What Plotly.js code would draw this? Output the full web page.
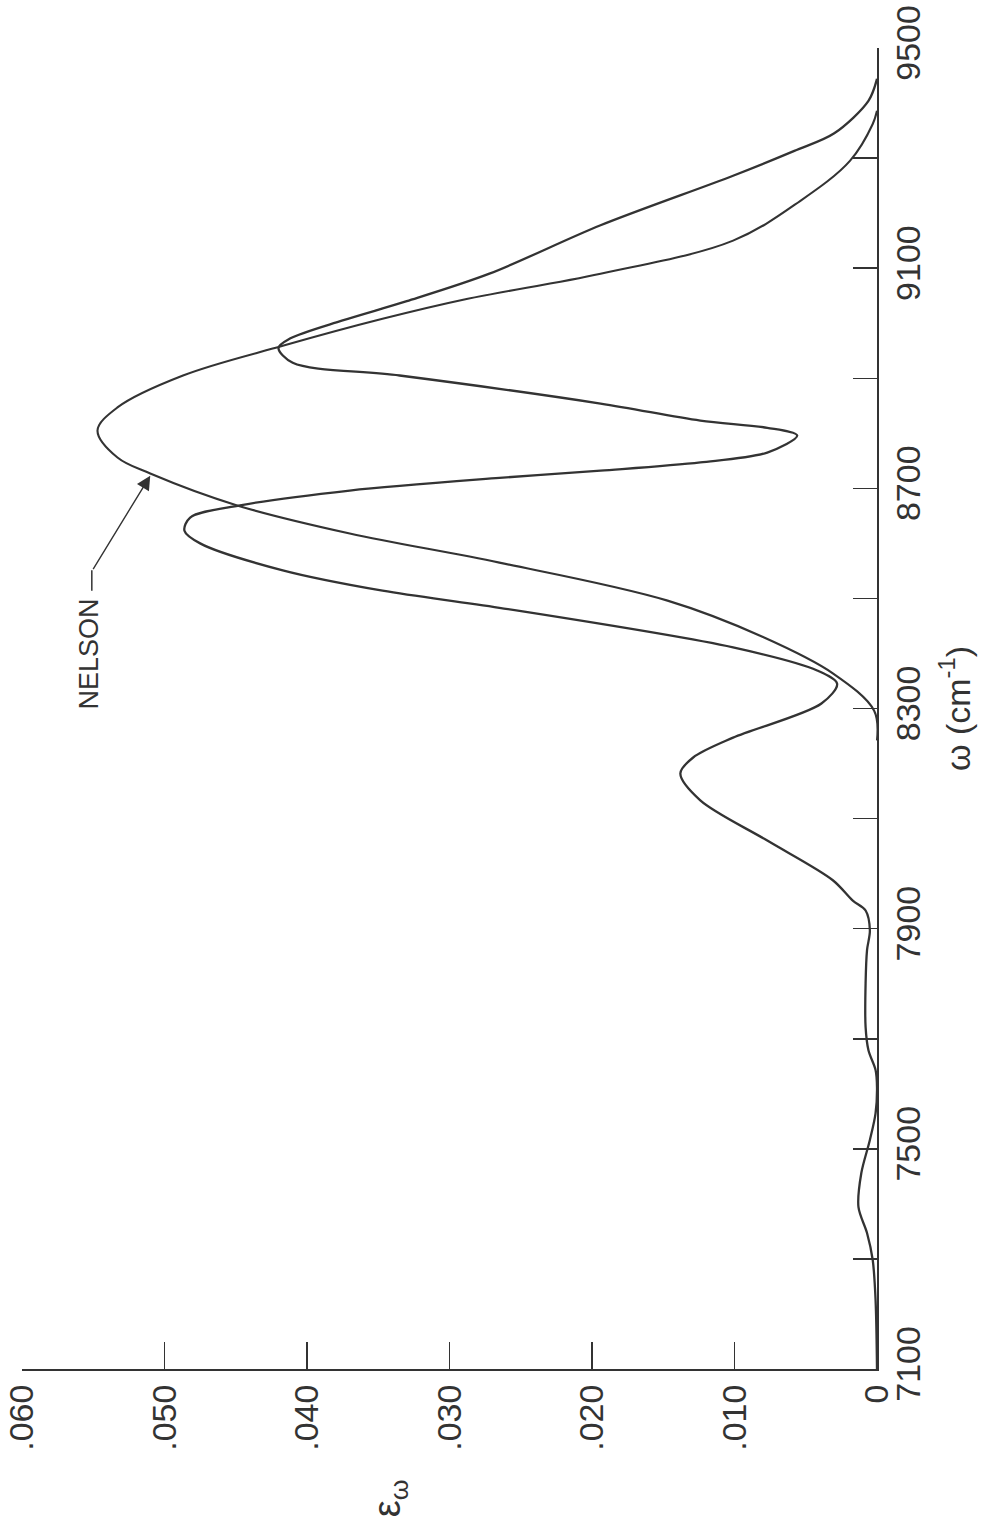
<!DOCTYPE html>
<html>
<head>
<meta charset="utf-8">
<script src="https://cdn.plot.ly/plotly-3.0.1.min.js"></script>
<style>
  html, body { margin: 0; padding: 0; background: #ffffff; }
  #chart { width: 986px; height: 1535px; }
</style>
</head>
<body>
<div id="chart"></div>
<script>
// ---- data ----
// computed multi-peak band: wavenumber (cm^-1) and epsilon
const omegaMain = [7100, 7225, 7298, 7347, 7394, 7456, 7516, 7565, 7612, 7643, 7679, 7721, 7801, 7861, 7897, 7933,
  7951, 7988, 8060, 8133, 8182, 8211, 8247, 8309, 8345, 8369, 8411, 8483, 8514, 8551, 8600, 8623, 8647, 8669,
  8696, 8719, 8732, 8747, 8765, 8796, 8810, 8823, 8854, 8905, 8928, 8955, 8972, 9005, 9040, 9090, 9178, 9268,
  9313, 9345, 9404, 9444];
const epsMain = [0.0000, 0.0001, 0.0003, 0.0007, 0.0013, 0.0011, 0.0005, 0.0001, 0.0000, 0.0001, 0.0006, 0.0008,
  0.0008, 0.0007, 0.0005, 0.0008, 0.0017, 0.0031, 0.0077, 0.0124, 0.0138, 0.0129, 0.0101, 0.0039, 0.0028,
  0.0042, 0.0101, 0.0265, 0.0347, 0.0417, 0.0475, 0.0486, 0.0482, 0.0447, 0.0370, 0.0265, 0.0194, 0.0124,
  0.0077, 0.0056, 0.0077, 0.0124, 0.0194, 0.0335, 0.0410, 0.0420, 0.0412, 0.0375, 0.0330, 0.0272, 0.0194,
  0.0101, 0.0058, 0.0030, 0.0006, 0.0000];

// Nelson single band
const omegaNelson = [8242, 8296, 8364, 8430, 8496, 8565, 8618, 8669, 8727, 8756, 8805, 8847, 8905, 8959, 9008,
  9044, 9090, 9150, 9222, 9295, 9362, 9386];
const epsNelson = [0.0000, 0.0002, 0.0031, 0.0080, 0.0147, 0.0265, 0.0370, 0.0449, 0.0510, 0.0533, 0.0547,
  0.0533, 0.0487, 0.0417, 0.0347, 0.0288, 0.0194, 0.0101, 0.0054, 0.0019, 0.0003, 0.0000];

// axis ticks
const epsTickVals = [0, 0.01, 0.02, 0.03, 0.04, 0.05, 0.06];
const epsTickText = ['0', '.010', '.020', '.030', '.040', '.050', '.060'];
const omegaTickVals = [7100, 7500, 7900, 8300, 8700, 9100, 9500];
const omegaTickText = ['7100', '7500', '7900', '8300', '8700', '9100', '9500'];
const omegaMinorStep = 200;

const ink = '#333333';
const font = 'Liberation Sans, Arial, sans-serif';

const traces = [
  {
    x: epsMain, y: omegaMain, type: 'scatter', mode: 'lines',
    line: { color: ink, width: 2.3, shape: 'spline', smoothing: 0.9 },
    name: 'calculated', hoverinfo: 'skip'
  },
  {
    x: epsNelson, y: omegaNelson, type: 'scatter', mode: 'lines',
    line: { color: ink, width: 2.1, shape: 'spline', smoothing: 1.0 },
    name: 'Nelson', hoverinfo: 'skip'
  }
];

const layout = {
  width: 986, height: 1535,
  paper_bgcolor: '#ffffff', plot_bgcolor: '#ffffff',
  margin: { l: 22, r: 109, t: 48, b: 166 },
  showlegend: false,
  font: { family: font, color: ink },
  xaxis: {
    range: [0.06, 0],
    showgrid: false, zeroline: false,
    showline: true, linecolor: ink, linewidth: 2,
    ticks: 'inside', ticklen: 27, tickwidth: 1.5, tickcolor: ink,
    tickmode: 'array', tickvals: epsTickVals, ticktext: epsTickText,
    tickangle: -90,
    tickfont: { family: font, size: 34, color: ink }
  },
  yaxis: {
    range: [7100, 9500], side: 'right',
    showgrid: false, zeroline: false,
    showline: true, linecolor: ink, linewidth: 2,
    ticks: 'inside', ticklen: 24, tickwidth: 1.5, tickcolor: ink,
    tickmode: 'array', tickvals: omegaTickVals, ticktext: omegaTickText,
    minor: { tickmode: 'linear', tick0: omegaTickVals[0], dtick: omegaMinorStep,
             ticks: 'inside', ticklen: 24, tickwidth: 1.5, tickcolor: ink, showgrid: false },
    tickangle: -90,
    tickfont: { family: font, size: 34, color: ink },
    title: { text: 'ω (cm<sup>-1</sup>)', font: { family: font, size: 34, color: ink }, standoff: 20 }
  },
  shapes: [
    { type: 'line', xref: 'x', yref: 'y', x0: 0.0551, x1: 0.0551, y0: 8514, y1: 8551,
      line: { color: ink, width: 1.5 } }
  ],
  annotations: [
    { text: 'ε<sub>ω</sub>', xref: 'x', yref: 'paper', x: 0.0342, y: -0.114,
      showarrow: false, textangle: -90, font: { family: font, size: 38, color: ink } },
    { text: 'NELSON', xref: 'x', yref: 'y', x: 0.0553, y: 8400,
      showarrow: false, textangle: -90, font: { family: font, size: 27, color: ink } },
    { text: '', xref: 'x', yref: 'y', x: 0.0510, y: 8723,
      showarrow: true, axref: 'pixel', ayref: 'pixel', ax: -58, ay: 95,
      arrowhead: 2, arrowsize: 2, arrowwidth: 1.4, arrowcolor: ink }
  ]
};

Plotly.newPlot('chart', traces, layout, { staticPlot: true, displayModeBar: false });
</script>
</body>
</html>
